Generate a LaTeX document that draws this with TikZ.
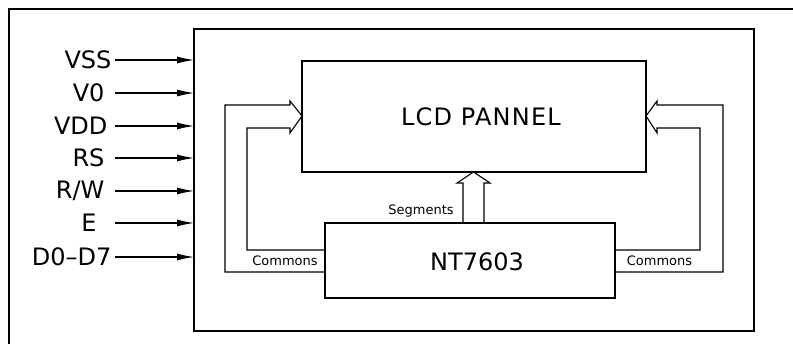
\documentclass[tikz,border=0pt]{standalone}
\usepackage{fontspec}
\setmainfont{DejaVu Sans}
\usetikzlibrary{arrows.meta}
\begin{document}
\begin{tikzpicture}[x=1pt,y=-1pt,line width=1.1pt,
  big/.style={font=\fontsize{24}{24}\selectfont,inner sep=0pt},
  small/.style={font=\fontsize{13}{13}\selectfont,inner sep=0pt},
  box/.style={draw,line width=1.1pt,inner sep=0pt,outer sep=0pt,anchor=north west},
  sig/.style={-{Latex[length=17pt,width=7pt]}},
  hollow/.style={line width=1.1pt,line join=miter}]
\useasboundingbox (0,0) rectangle (793,344);
% outer frame (only top and left visible)
\draw (9,344) -- (9,9) -- (793,9);
% boxes
\node[box,minimum width=560pt,minimum height=302pt] (module) at (194,29) {};
\node[box,minimum width=344pt,minimum height=111pt] (lcd) at (302,61) {};
\node[box,minimum width=290pt,minimum height=75pt] (nt) at (325,223) {};
\node[big] (lcdtxt) at (481,117) {\addfontfeatures{LetterSpace=5}LCD PANNEL};
\node[big] (nttxt) at (477,262) {NT7603};
% input signals
\foreach \name/\lab/\y/\xr in {vss/{VSS}/60/112, vo/{V0}/93/105, vdd/{VDD}/126/108, rs/{RS}/158/105, rw/{R/W}/191/105, e/{E}/223/97, d/{D0--D7}/257/112}{
  \node[big,anchor=east] (\name) at (\xr,\y) {\lab};
  \coordinate (\name s) at (115,\y);
  \draw[sig] (\name s) -- (module.west |- \name s);
}
% left commons
\coordinate (la) at (0,272); \coordinate (lb) at (0,250); \coordinate (lt) at (0,116);
\draw[hollow] (nt.west |- la) -- (225,272) -- (225,105) -- (290,105) -- (290,101) -- (lcd.west |- lt) -- (290,133) -- (290,128) -- (247,128) -- (247,250) -- (nt.west |- lb);
\node[small] (cl) at (285,261) {Commons};
% right commons
\draw[hollow] (nt.east |- la) -- (723,272) -- (723,105) -- (657,105) -- (657,101) -- (lcd.east |- lt) -- (657,133) -- (657,128) -- (700,128) -- (700,250) -- (nt.east |- lb);
\node[small] (cr) at (659.5,261) {Commons};
% segments
\coordinate (s1) at (463,0); \coordinate (s2) at (484,0); \coordinate (st) at (473.5,0);
\draw[hollow] (nt.north -| s1) -- (463,183) -- (457,183) -- (lcd.south -| st) -- (490,183) -- (484,183) -- (nt.north -| s2);
\node[small] (seg) at (421,211) {Segments};
\end{tikzpicture}
\end{document}
